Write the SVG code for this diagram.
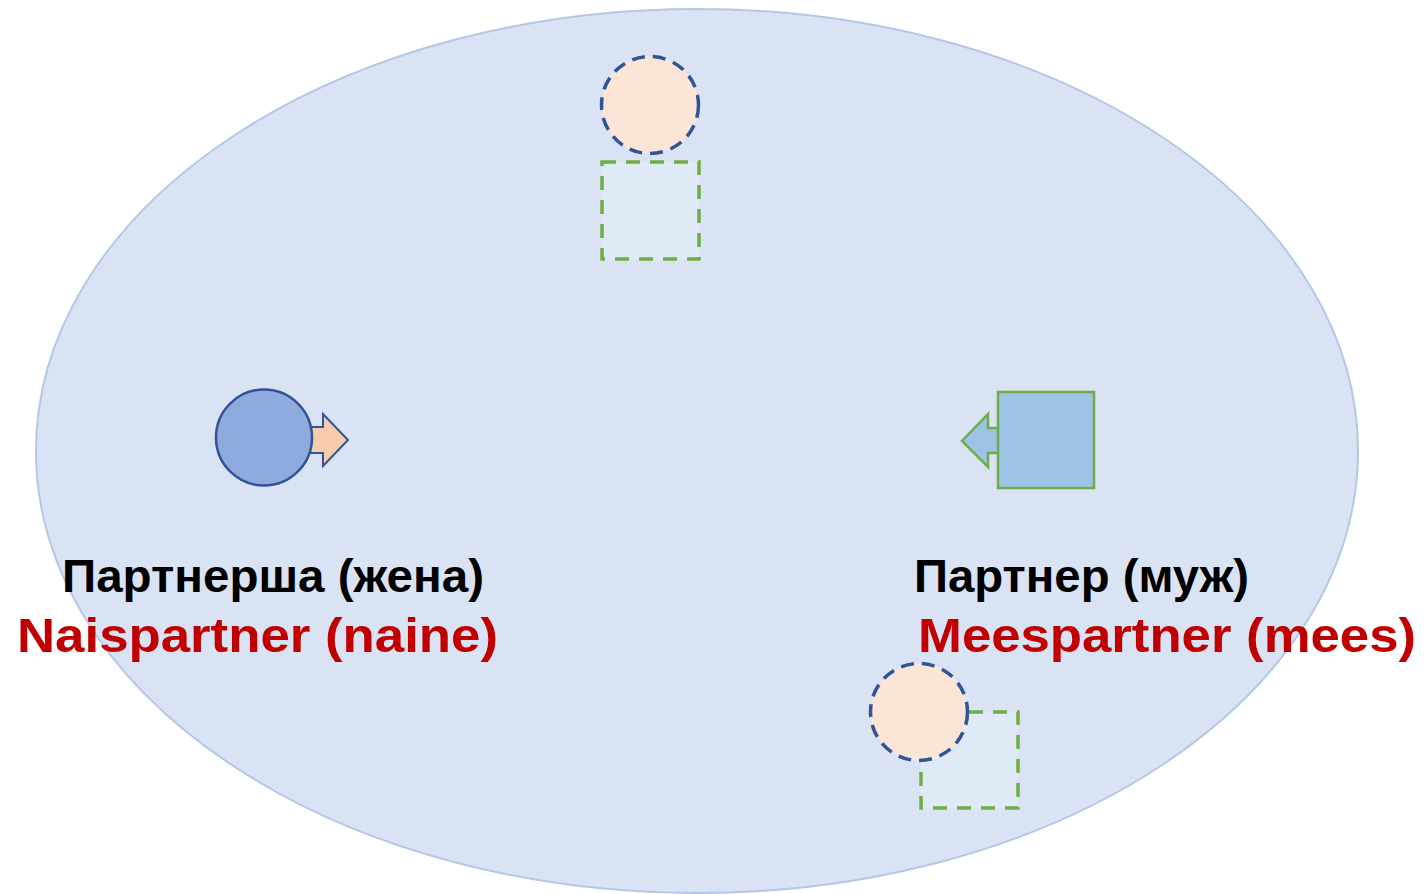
<svg xmlns="http://www.w3.org/2000/svg" width="1425" height="894" viewBox="0 0 1425 894">
<style>
.lbl1{font-family:"Liberation Sans",Arial,sans-serif;font-weight:bold;font-size:47px;fill:#000}
.lbl2{font-family:"Liberation Sans",Arial,sans-serif;font-weight:bold;font-size:49px;fill:#C00000}
.dcirc{fill:#FBE5D6;stroke:#2F5597;stroke-width:3.5;stroke-dasharray:13,8}
.dsq{fill:#DEEBF7;stroke:#70AD47;stroke-width:3.5;stroke-dasharray:14,10}
</style>
<rect width="1425" height="894" fill="#fff"/>
<g id="field">
<ellipse cx="697" cy="451" rx="661" ry="442" fill="#DAE3F3" stroke="#B4C7E7" stroke-width="2"/>
</g>
<g id="connectors"></g>
<g id="top-pair">
<rect class="dsq" x="602" y="162" width="97" height="97"/>
<circle class="dcirc" cx="650" cy="105" r="48.5"/>
</g>
<g id="woman">
<polygon points="296,427 323,427 323,414 348,440 323,466 323,453 296,453" fill="#F8CBAD" stroke="#2F5597" stroke-width="2"/>
<circle cx="264" cy="437.5" r="48" fill="#8FAADC" stroke="#2F5597" stroke-width="2.5"/>
</g>
<g id="man">
<polygon points="1010,428 988,428 988,414 962,441 988,467 988,453 1010,453" fill="#9DC3E6" stroke="#70AD47" stroke-width="2.5"/>
<rect x="998" y="392" width="96" height="96" fill="#9DC3E6" stroke="#70AD47" stroke-width="2.5"/>
</g>
<g id="bottom-pair">
<rect class="dsq" x="921" y="712" width="97" height="96"/>
<circle class="dcirc" cx="919" cy="712" r="48.5"/>
</g>
<g id="label-woman">
<text class="lbl1" x="62" y="592" textLength="422" lengthAdjust="spacingAndGlyphs">Партнерша (жена)</text>
<text class="lbl2" x="17" y="652" textLength="481" lengthAdjust="spacingAndGlyphs">Naispartner (naine)</text>
</g>
<g id="label-man">
<text class="lbl1" x="914" y="592" textLength="335" lengthAdjust="spacingAndGlyphs">Партнер (муж)</text>
<text class="lbl2" x="918" y="652" textLength="498" lengthAdjust="spacingAndGlyphs">Meespartner (mees)</text>
</g>
</svg>
